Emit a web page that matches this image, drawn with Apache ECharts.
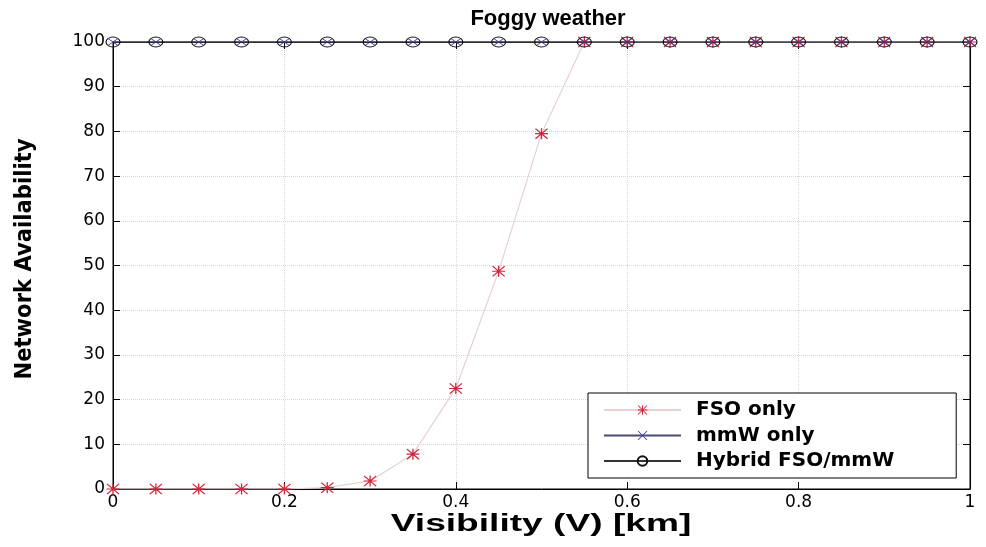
<!DOCTYPE html>
<html><head><meta charset="utf-8">
<script src="https://cdn.jsdelivr.net/npm/echarts@6/dist/echarts.min.js"></script>
<style>html,body{margin:0;padding:0;background:#fff}#c{width:986px;height:547px}</style>
</head><body><div id="c"></div>
<script>
var visibility = [0,0.05,0.1,0.15,0.2,0.25,0.3,0.35,0.4,0.45,0.5,0.55,0.6,0.65,0.7,0.75,0.8,0.85,0.9,0.95,1];
var fsoOnly = [0,0,0,0,0,0.3,1.8,7.8,22.5,48.7,79.5,100,100,100,100,100,100,100,100,100,100];
var mmwOnly = [100,100,100,100,100,100,100,100,100,100,100,100,100,100,100,100,100,100,100,100,100];
var hybrid = [100,100,100,100,100,100,100,100,100,100,100,100,100,100,100,100,100,100,100,100,100];
var seriesNames = ['FSO only','mmW only','Hybrid FSO/mmW'];
var titleText = 'Foggy weather';
var xName = 'Visibility (V) [km]';
var yName = 'Network Availability';

function pairs(ys){ return visibility.map(function(x,i){ return [x, ys[i]]; }); }
var STAR = 'path://M0 9H20V11H0ZM9 0H11V20H9ZM1.4 0L20 18.6L18.6 20L0 1.4ZM18.6 0L20 1.4L1.4 20L0 18.6Z';
var CROSS = 'path://M1.4 0L20 18.6L18.6 20L0 1.4ZM18.6 0L20 1.4L1.4 20L0 18.6Z';
var F = 'Liberation Sans, Arial, sans-serif';
var TICKF = 'DejaVu Sans, sans-serif';

var chart = echarts.init(document.getElementById('c'));
chart.setOption({
  animation: false,
  backgroundColor: '#fff',
  title: { text: titleText, left: 543, top: 3, textAlign: 'center',
    textStyle: { fontFamily: F, fontWeight: 'bold', fontSize: 22, color: '#000' } },
  grid: { left: 113, right: 16, top: 42, bottom: 58, show: true, borderColor: '#000', borderWidth: 1, backgroundColor: 'transparent' },
  legend: {
    orient: 'vertical', left: 588, top: 393,
    data: seriesNames,
    backgroundColor: '#fff', borderColor: '#000', borderWidth: 1,
    padding: [7, 62, 7, 15], itemGap: 5.5, itemWidth: 77, itemHeight: 12,
    textStyle: { fontFamily: 'DejaVu Sans, sans-serif', fontWeight: 'bold', fontSize: 20, color: '#000', padding: [0,0,0,10], lineHeight: 20 }
  },
  graphic: [
    { type: 'text', x: 541, y: 525, scaleX: 1.58, z: 10,
      style: { text: xName, fontFamily: 'Liberation Sans, Arial, sans-serif', fontWeight: 'bold', fontSize: 23.5,
        fill: '#000', align: 'center', verticalAlign: 'middle' } },
    { type: 'text', x: 25, y: 259, rotation: Math.PI / 2, z: 10,
      style: { text: yName, fontFamily: 'Liberation Sans Narrow, DejaVu Sans Condensed, sans-serif', fontWeight: 'bold', fontSize: 23.5,
        fill: '#000', align: 'center', verticalAlign: 'middle' } }
  ],
  xAxis: [{
    type: 'value', min: 0, max: 1, interval: 0.2,
    axisLine: { onZero: false, lineStyle: { color: '#000', width: 1 } },
    axisTick: { inside: true, length: 7, lineStyle: { color: '#000' } },
    axisLabel: { fontFamily: TICKF, fontSize: 17, color: '#000', margin: 5,
      formatter: function(v){ return String(v); } },
    splitLine: { show: true, lineStyle: { color: '#d6d6d6', type: 'dotted' } }
  }, {
    type: 'value', min: 0, max: 1, interval: 0.2, position: 'top',
    axisLine: { show: true, onZero: false, lineStyle: { color: '#000', width: 1 } },
    axisTick: { show: true, inside: true, length: 7, lineStyle: { color: '#000' } },
    axisLabel: { show: false }, splitLine: { show: false }
  }],
  yAxis: [{
    type: 'value', min: 0, max: 100, interval: 10,
    axisLine: { show: true, onZero: false, lineStyle: { color: '#000', width: 1 } },
    axisTick: { show: true, inside: true, length: 7, lineStyle: { color: '#000' } },
    axisLabel: { fontFamily: TICKF, fontSize: 17, color: '#000', margin: 8 },
    splitLine: { show: true, lineStyle: { color: '#d6d6d6', type: 'dotted' } }
  }, {
    type: 'value', min: 0, max: 100, interval: 10, position: 'right',
    axisLine: { show: true, onZero: false, lineStyle: { color: '#000', width: 1 } },
    axisTick: { show: true, inside: true, length: 7, lineStyle: { color: '#000' } },
    axisLabel: { show: false }, splitLine: { show: false }
  }],
  series: [{
    name: seriesNames[0], type: 'line', data: pairs(fsoOnly),
    symbol: STAR, symbolSize: [13, 11], symbolKeepAspect: false,
    lineStyle: { color: '#e6d2d2', width: 1.2 },
    itemStyle: { color: '#d0263a' }, z: 3
  }, {
    name: seriesNames[1], type: 'line', data: pairs(mmwOnly),
    symbol: CROSS, symbolSize: [10, 7], symbolKeepAspect: false,
    lineStyle: { color: '#4a4a70', width: 1 },
    itemStyle: { color: '#3a3aa8' }, z: 4
  }, {
    name: seriesNames[2], type: 'line', data: pairs(hybrid),
    symbol: 'circle', symbolSize: [14, 10], symbolKeepAspect: false,
    lineStyle: { color: '#333', width: 1 },
    itemStyle: { color: 'rgba(255,255,255,0)', borderColor: '#111', borderWidth: 1 }, z: 5
  }]
});
</script></body></html>
